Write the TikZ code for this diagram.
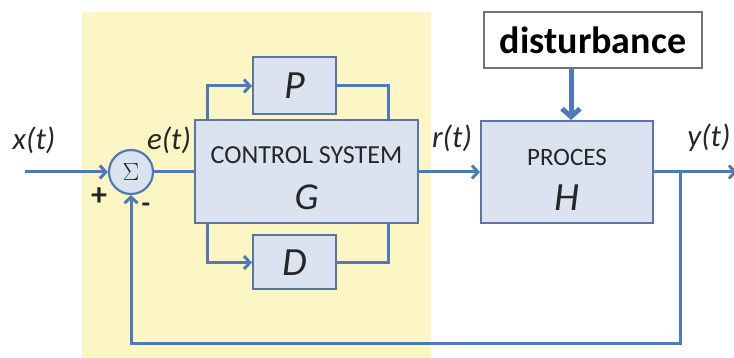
\documentclass[tikz,border=0pt]{standalone}
\usepackage{fontspec}
\setmainfont{Carlito}
\usetikzlibrary{arrows.meta,positioning}
\definecolor{linblue}{RGB}{79,122,186}
\definecolor{boxfill}{RGB}{219,227,241}
\definecolor{boxline}{RGB}{90,116,168}
\definecolor{bgyellow}{RGB}{251,246,196}
\definecolor{txtgray}{RGB}{38,38,38}
\tikzset{
	block/.style={draw=boxline, line width=2pt, fill=boxfill, rectangle, inner sep=0pt, text=txtgray, align=center},
	sig/.style={draw=linblue, line width=3pt, -{Straight Barb[length=6pt,width=13pt]}},
	wire/.style={draw=linblue, line width=3pt},
	lbl/.style={text=txtgray, font=\fontsize{31}{31}\selectfont\itshape},
}
\begin{document}
\begin{tikzpicture}[x=1pt, y=1pt]
	\useasboundingbox (0,0) rectangle (734,-358);
	\fill[bgyellow] (82,-12) rectangle (431,-358);

	\node[circle, draw=linblue, line width=2.2pt, fill=boxfill, minimum size=44pt, inner sep=0pt, text=txtgray, font=\fontsize{27}{27}\selectfont] (SUM) at (131,-172) {$\Sigma$};
	\coordinate (XIN) at (25,-172);

	\node[block, right of=SUM, node distance=175.5pt, minimum width=223pt, minimum height=103pt](G){\fontsize{26}{26}\selectfont\rule{0pt}{30pt}CONTROL SYSTEM\\[20pt]\fontsize{38}{38}\selectfont\itshape G};
	\node[block, above of=G, node distance=86pt, xshift=-12pt, minimum width=83pt, minimum height=57pt, font=\fontsize{40}{40}\selectfont\itshape](P){P};
	\node[block, below of=G, node distance=90.5pt, xshift=-12pt, minimum width=83pt, minimum height=54pt, font=\fontsize{40}{40}\selectfont\itshape](D){D};

	\node[block, right of=G, node distance=260.5pt, minimum width=172pt, minimum height=102pt](H){\fontsize{25}{25}\selectfont\rule{0pt}{32pt}PROCES\\[18pt]\fontsize{40}{40}\selectfont\itshape H};
	\node[draw=black!55, line width=1.2pt, fill=white, above of=H, node distance=132pt, xshift=26pt, minimum width=218pt, minimum height=56pt, font=\fontsize{38}{38}\selectfont\bfseries](DIST){disturbance};

	\coordinate (OUT) at (737,-172);
	\coordinate (BR) at (680,-172);
	\coordinate (FB) at (680,-343);

	\node[lbl] (XL) at (34,-140) {x(t)};
	\node[lbl] (EL) at (169,-140) {e(t)};
	\node[lbl] (RL) at (452,-138) {r(t)};
	\node[lbl, anchor=east] (YL) at (734,-138) {y(t)};
	\node[text=txtgray, font=\fontsize{32}{32}\selectfont\bfseries] (PLUS) at (99,-197) {+};
	\node[text=txtgray, font=\fontsize{28}{28}\selectfont\bfseries] (MINUS) at (146,-208) {-};

	\draw[sig] (XIN) -- (SUM.west);
	\draw[wire] (SUM.east) -- (G.west);
	\draw[sig] ([xshift=13pt]G.north west) |- (P.west);
	\draw[wire] (P.east) -| ([xshift=-31pt]G.north east);
	\draw[sig] ([xshift=13pt]G.south west) |- (D.west);
	\draw[wire] (D.east) -| ([xshift=-31pt]G.south east);
	\draw[sig] (G.east) -- (H.west);
	\draw[draw=linblue, line width=5pt, -{Straight Barb[length=8pt,width=18pt]}] ([xshift=-22pt]DIST.south) -- ([xshift=-22pt]DIST.south |- H.north);
	\draw[sig] (H.east) -- (OUT);
	\draw[sig] (BR) -- (FB) -| (SUM.south);
\end{tikzpicture}
\end{document}
